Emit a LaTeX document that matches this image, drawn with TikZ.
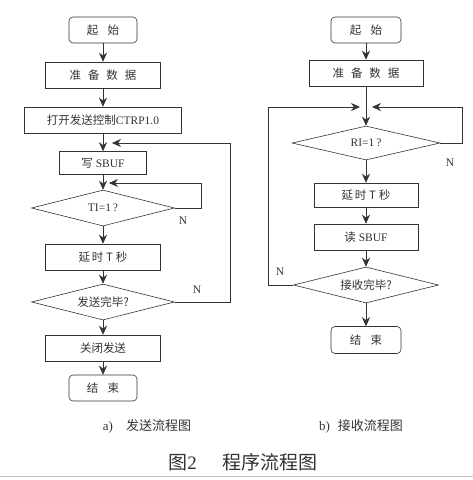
\documentclass[tikz,border=0pt]{standalone}
\usepackage{fontspec}
\setmainfont{Liberation Serif}
\newfontfamily\cjk{Noto Sans CJK SC}
\usetikzlibrary{arrows.meta,shapes.geometric}

\begin{document}
\begin{tikzpicture}[x=1pt,y=1pt,->,>={Stealth[length=9pt,width=8pt]},semithick,color=black!80,node distance=45pt,font=\fontsize{11.5}{13}\selectfont]
\tikzstyle{term}=[draw,rounded corners=4pt,minimum width=68pt,minimum height=26pt]
\tikzstyle{proc}=[draw,minimum width=115pt,minimum height=26pt]
\tikzstyle{cond}=[draw,diamond,aspect=4,minimum width=143pt,minimum height=36pt,inner sep=0pt]
\useasboundingbox (0,0) rectangle (473,-480);

% a) sending
\node[term]                          (s1) at (103,-30) {\cjk 起\hspace{0.8em}始};
\node[proc]                          (p1) [below of=s1] {\cjk 准\hspace{0.6em}备\hspace{0.6em}数\hspace{0.6em}据};
\node[proc,minimum width=157pt]      (p2) [below of=p1] {{\cjk 打开发送控制}CTRP1.0};
\node[proc,minimum width=87pt,minimum height=23pt] (p3) [below of=p2,node distance=43pt] {{\cjk 写} SBUF};
\node[cond]                          (c1) [below of=p3] {TI=1\,?};
\node[proc]                          (p4) [below of=c1,node distance=49pt] {\cjk 延\hspace{0.15em}时\hspace{0.25em}T\hspace{0.25em}秒};
\node[cond]                          (c2) [below of=p4] {\cjk 发送完毕?};
\node[proc]                          (p5) [below of=c2,node distance=46pt] {\cjk 关闭发送};
\node[term]                          (e1) [below of=p5,node distance=40pt] {\cjk 结\hspace{0.8em}束};

\path
(s1) edge (p1)
(p1) edge (p2)
(p2) edge (p3)
(p3) edge (c1)
(c1) edge (p4)
(p4) edge (c2)
(c2) edge (p5)
(p5) edge (e1);

\coordinate (m1) at (112,-143);
\coordinate (m2) at (109,-183);
\draw (c2.east) -- ++(55,0) |- (m1);
\draw (c1.east) -- ++(26,0) |- (m2);
\node (n1) at (183,-221) {N};
\node (n2) at (197,-290) {N};

% b) receiving
\node[term,minimum width=70pt]       (s2) at (366,-30) {\cjk 起\hspace{0.8em}始};
\node[proc,minimum width=114pt]      (q1) [below of=s2,node distance=43pt] {\cjk 准\hspace{0.6em}备\hspace{0.6em}数\hspace{0.6em}据};
\node[cond,minimum width=148pt,minimum height=34pt] (d1) [below of=q1,node distance=70pt] {RI=1\,?};
\node[proc,minimum width=104pt,minimum height=24pt] (q2) [below of=d1,node distance=52pt] {\cjk 延\hspace{0.15em}时\hspace{0.25em}T\hspace{0.25em}秒};
\node[proc,minimum width=104pt]      (q3) [below of=q2,node distance=42pt] {{\cjk 读} SBUF};
\node[cond,minimum width=145pt]      (d2) [below of=q3,node distance=48pt] {\cjk 接收完毕?};
\node[term,minimum width=70pt,minimum height=27pt] (e2) [below of=d2,node distance=55pt] {\cjk 结\hspace{0.8em}束};

\path
(s2) edge (q1)
(q1) edge (d1)
(d1) edge (q2)
(q2) edge (q3)
(q3) edge (d2)
(d2) edge (e2);

\coordinate (r1) at (360,-107);
\coordinate (r2) at (372,-107);
\draw (d2.west) -- ++(-25,0) |- (r1);
\draw (d1.east) -- ++(22,0) |- (r2);
\node (n3) at (450,-163) {N};
\node (n4) at (280,-272) {N};

% captions
\node[font=\fontsize{13}{15}\selectfont] (capa) at (147,-426) {a)\hspace{1em}{\cjk 发送流程图}};
\node[font=\fontsize{13}{15}\selectfont] (capb) at (361,-426) {b)\hspace{0.6em}{\cjk 接收流程图}};
\node[font=\fontsize{19}{21}\selectfont] (fig) at (243,-462) {{\cjk 图}2\hspace{1.35em}{\cjk 程序流程图}};
\draw[-,black!25] (0,-476) -- (473,-476);
\end{tikzpicture}
\end{document}
